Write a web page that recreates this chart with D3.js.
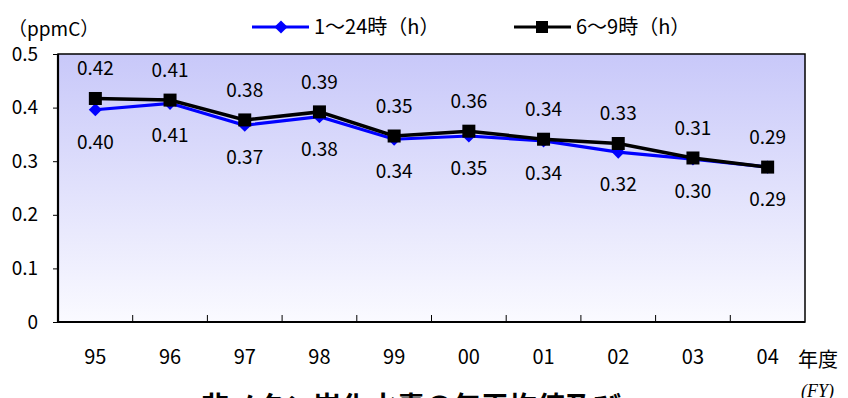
<!DOCTYPE html>
<html>
<head>
<meta charset="utf-8">
<script src="https://cdn.jsdelivr.net/npm/d3@7"></script>
<style>
body { margin: 0; background: #fff; }
text { font-family: "Noto Sans CJK JP", "Noto Sans", sans-serif; fill: #000; }
</style>
</head>
<body>
<script>
// fiscal years (two digit)
var years = ["95", "96", "97", "98", "99", "00", "01", "02", "03", "04"];
// 1～24時 annual mean (ppmC)
var allDay = [0.396, 0.408, 0.367, 0.383, 0.341, 0.347, 0.338, 0.317, 0.304, 0.289];
// 6～9時 mean (ppmC)
var morning = [0.417, 0.414, 0.377, 0.392, 0.347, 0.356, 0.341, 0.333, 0.306, 0.289];
var yTicks = [0, 0.1, 0.2, 0.3, 0.4, 0.5];

var w = 848, h = 398;
var plotL = 58, plotR = 805, plotT = 54, plotB = 322;

var svg = d3.select("body").append("svg")
  .attr("width", w).attr("height", h);

var x = d3.scaleBand().domain(years).range([plotL, plotR]);
var y = d3.scaleLinear().domain([0, 0.5]).range([plotB, plotT]);
var cx = function(d, i) { return x(years[i]) + x.bandwidth() / 2; };

// plot background gradient
var grad = svg.append("defs").append("linearGradient")
  .attr("id", "bg").attr("x1", 0).attr("y1", 0).attr("x2", 0).attr("y2", 1);
grad.append("stop").attr("offset", "0%").attr("stop-color", "#c8c8f9");
grad.append("stop").attr("offset", "100%").attr("stop-color", "#fafaff");

svg.append("rect")
  .attr("x", plotL).attr("y", plotT)
  .attr("width", plotR - plotL).attr("height", plotB - plotT)
  .attr("fill", "url(#bg)")
  .attr("stroke", "#000").attr("stroke-width", 1.5);

// y axis
var yAxis = d3.axisLeft(y).tickValues(yTicks).tickSize(5).tickPadding(15)
  .tickFormat(function(d) { return d === 0 ? "0" : d3.format(".1f")(d); });
var gy = svg.append("g").attr("transform", "translate(" + plotL + ",0)").call(yAxis);
gy.select(".domain").remove();
gy.selectAll("line").attr("stroke", "#000");
gy.selectAll("text").style("font-size", "19px").style("font-family", "'Noto Sans CJK JP', sans-serif");

// x axis labels
var xAxis = d3.axisBottom(x).tickSize(0).tickPadding(28);
var gx = svg.append("g").attr("transform", "translate(0," + plotB + ")").call(xAxis);
gx.select(".domain").remove();
gx.selectAll("text").style("font-size", "20px").style("font-family", "'Noto Sans CJK JP', sans-serif");

// category boundary ticks (inside, pointing up)
svg.append("g").selectAll("line")
  .data(years.slice(1))
  .enter().append("line")
  .attr("x1", function(d) { return x(d); })
  .attr("x2", function(d) { return x(d); })
  .attr("y1", plotB).attr("y2", plotB - 7)
  .attr("stroke", "#000").attr("stroke-width", 1);

// heavy left + bottom axis lines
svg.append("path")
  .attr("d", "M" + plotL + "," + plotT + "V" + plotB + "H" + plotR)
  .attr("fill", "none").attr("stroke", "#000").attr("stroke-width", 2.2);

var line = d3.line().x(cx).y(function(d) { return y(d); });

// 1～24時 series (blue, diamonds)
svg.append("path").datum(allDay)
  .attr("d", line).attr("fill", "none")
  .attr("stroke", "#0000ff").attr("stroke-width", 3.2);
svg.append("g").selectAll("path")
  .data(allDay).enter().append("path")
  .attr("d", d3.symbol().type(d3.symbolDiamond2).size(110))
  .attr("transform", function(d, i) { return "translate(" + cx(d, i) + "," + y(d) + ")"; })
  .attr("fill", "#0000ff");

// 6～9時 series (black, squares)
svg.append("path").datum(morning)
  .attr("d", line).attr("fill", "none")
  .attr("stroke", "#000").attr("stroke-width", 3.5);
svg.append("g").selectAll("rect")
  .data(morning).enter().append("rect")
  .attr("x", function(d, i) { return cx(d, i) - 6.5; })
  .attr("y", function(d) { return y(d) - 6.5; })
  .attr("width", 13).attr("height", 13)
  .attr("fill", "#000");

// value labels
svg.append("g").selectAll("text")
  .data(morning).enter().append("text")
  .attr("x", cx)
  .attr("y", function(d) { return y(d) - 30; })
  .attr("dy", "0.36em")
  .attr("text-anchor", "middle")
  .style("font-size", "19px")
  .text(function(d) { return d.toFixed(2); });
svg.append("g").selectAll("text")
  .data(allDay).enter().append("text")
  .attr("x", cx)
  .attr("y", function(d) { return y(d) + 32; })
  .attr("dy", "0.36em")
  .attr("text-anchor", "middle")
  .style("font-size", "19px")
  .text(function(d) { return d.toFixed(2); });

// unit
svg.append("text").attr("x", 8).attr("y", 36).style("font-size", "19px").text("（ppmC）");

// legend
var legend = [
  { name: "1～24時（h）", color: "#0000ff", shape: "diamond", x0: 252 },
  { name: "6～9時（h）", color: "#000", shape: "square", x0: 514 }
];
legend.forEach(function(l) {
  var g = svg.append("g");
  g.append("line").attr("x1", l.x0).attr("x2", l.x0 + 57).attr("y1", 27).attr("y2", 27)
    .attr("stroke", l.color).attr("stroke-width", 3);
  if (l.shape === "diamond") {
    g.append("path").attr("d", d3.symbol().type(d3.symbolDiamond2).size(110))
      .attr("transform", "translate(" + (l.x0 + 29) + ",27)").attr("fill", l.color);
  } else {
    g.append("rect").attr("x", l.x0 + 22).attr("y", 21).attr("width", 12).attr("height", 12)
      .attr("fill", l.color);
  }
  g.append("text").attr("x", l.x0 + 62).attr("y", 27).attr("dy", "0.36em")
    .style("font-size", "20px").text(l.name);
});

// x axis unit
svg.append("text").attr("x", 798).attr("y", 360).attr("dy", "0.36em")
  .style("font-size", "20px").text("年度");
svg.append("text").attr("x", 801).attr("y", 397)
  .style("font-family", "'Liberation Serif', serif").style("font-style", "italic")
  .style("font-size", "18px").text("(FY)");

// title (cut at the bottom edge)
svg.append("text").attr("x", 411).attr("y", 417).attr("text-anchor", "middle")
  .style("font-size", "28px").style("font-weight", "bold")
  .text("非メタン炭化水素の年平均値及び");
</script>
</body>
</html>
